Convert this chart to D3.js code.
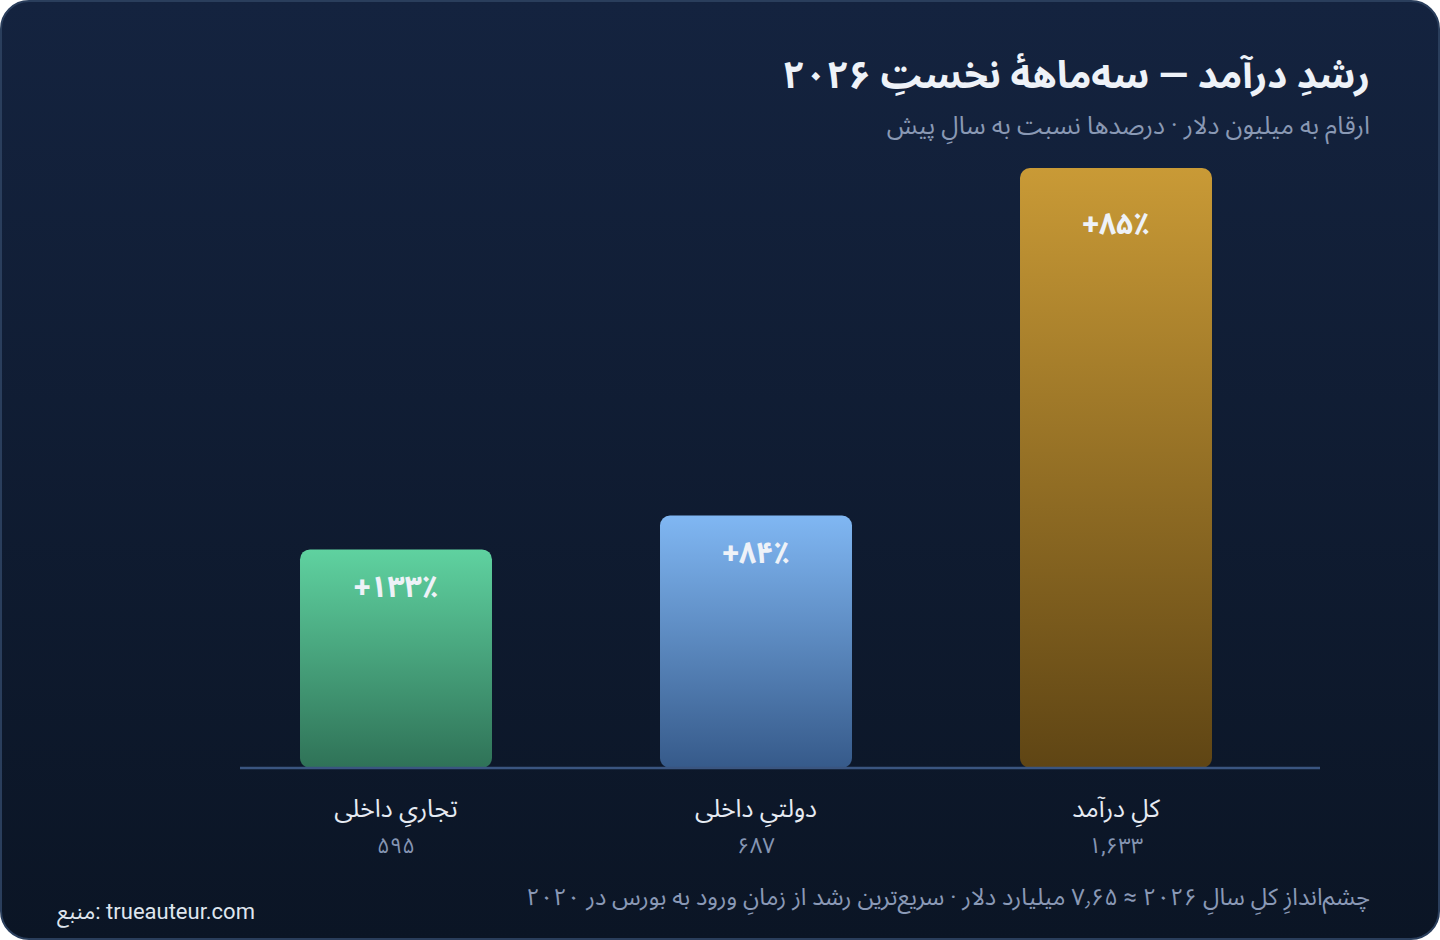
<!DOCTYPE html>
<html lang="fa">
<head>
<meta charset="utf-8">
<script src="https://cdn.jsdelivr.net/npm/d3@7"></script>
<style>
  html, body { margin: 0; padding: 0; background: #ffffff; }
  svg { display: block; font-family: Roboto, "Noto Sans Arabic", Vazirmatn, "DejaVu Sans", sans-serif; }
</style>
</head>
<body>
<div id="chart"></div>
<script>
// data
const categories = ["کلِ درآمد", "دولتیِ داخلی", "تجاریِ داخلی"];
const revenue = [1633, 687, 595];          // million USD
const growth = [85, 84, 133];              // % YoY
const barColors = [
  ["#c99a36", "#5f4514"],
  ["#80b7f3", "#365a8a"],
  ["#5fd2a0", "#2f7257"]
];

const title = "رشدِ درآمد — سه‌ماههٔ نخستِ ۲۰۲۶";
const subtitle = "ارقام به میلیون دلار · درصدها نسبت به سالِ پیش";
const footnote = "چشم‌اندازِ کلِ سالِ ۲۰۲۶ ≈ ۷٫۶۵ میلیارد دلار · سریع‌ترین رشد از زمانِ ورود به بورس در ۲۰۲۰";
const source = "منبع: trueauteur.com";

const W = 1440, H = 940;
const faDigits = s => String(s).replace(/\d/g, d => "۰۱۲۳۴۵۶۷۸۹"[d]);
const fmtNum = v => faDigits(d3.format(",")(v));

const svg = d3.select("#chart").append("svg")
  .attr("width", W).attr("height", H).attr("viewBox", `0 0 ${W} ${H}`);
const defs = svg.append("defs");

const bg = defs.append("linearGradient").attr("id", "bg").attr("x1", 0).attr("y1", 0).attr("x2", 0).attr("y2", 1);
bg.append("stop").attr("offset", "0%").attr("stop-color", "#14233f");
bg.append("stop").attr("offset", "100%").attr("stop-color", "#0b1525");

svg.append("rect")
  .attr("x", 1).attr("y", 1).attr("width", W - 2).attr("height", H - 2)
  .attr("rx", 28)
  .attr("fill", "url(#bg)")
  .attr("stroke", "#2a3e5c").attr("stroke-width", 2);

// scales (right-to-left order)
const x = d3.scaleBand().domain(categories).range([1296, 216]).padding(0);
const barW = x.bandwidth() * 0.5333;
const y = d3.scaleLinear().domain([0, d3.max(revenue)]).range([768, 168]);

categories.forEach((c, i) => {
  const g = defs.append("linearGradient").attr("id", `bar${i}`)
    .attr("x1", 0).attr("y1", 0).attr("x2", 0).attr("y2", 1);
  g.append("stop").attr("offset", "0%").attr("stop-color", barColors[i][0]);
  g.append("stop").attr("offset", "100%").attr("stop-color", barColors[i][1]);
});

const rows = categories.map((c, i) => ({ c, v: revenue[i], g: growth[i], i }));
const cx = d => x(d.c) + x.bandwidth() / 2;

// bars
svg.append("g").selectAll("rect").data(rows).join("rect")
  .attr("x", d => cx(d) - barW / 2)
  .attr("y", d => y(d.v))
  .attr("width", barW)
  .attr("height", d => y(0) - y(d.v))
  .attr("rx", 10)
  .attr("fill", d => `url(#bar${d.i})`);

// baseline
svg.append("line")
  .attr("x1", 240).attr("x2", 1320)
  .attr("y1", y(0)).attr("y2", y(0))
  .attr("stroke", "#3a5580").attr("stroke-width", 2.5);

// growth labels inside bars
svg.append("g").selectAll("text").data(rows).join("text")
  .attr("x", cx)
  .attr("y", d => y(d.v) + Math.max(37, (y(0) - y(d.v)) * 0.093))
  .attr("dy", "0.35em")
  .attr("text-anchor", "middle")
  .attr("direction", "ltr")
  .attr("fill", "#eef2f8")
  .attr("font-size", 30)
  .attr("font-weight", 700)
  .text(d => "+" + faDigits(d.g) + "٪");

// category labels
svg.append("g").selectAll("text").data(rows).join("text")
  .attr("x", cx).attr("y", 808)
  .attr("dy", "0.35em")
  .attr("text-anchor", "middle")
  .attr("fill", "#e6ebf3")
  .attr("font-size", 25)
  .text(d => d.c);

svg.append("g").selectAll("text").data(rows).join("text")
  .attr("x", cx).attr("y", 845)
  .attr("dy", "0.35em")
  .attr("text-anchor", "middle")
  .attr("direction", "ltr")
  .attr("fill", "#8595b3")
  .attr("font-size", 22)
  .text(d => fmtNum(d.v));

// titles
svg.append("text")
  .attr("x", 1370).attr("y", 75).attr("dy", "0.35em")
  .attr("text-anchor", "start").attr("direction", "rtl")
  .attr("fill", "#eef2f8").attr("font-size", 38.5).attr("font-weight", 700)
  .text(title);

svg.append("text")
  .attr("x", 1370).attr("y", 125).attr("dy", "0.35em")
  .attr("text-anchor", "start").attr("direction", "rtl")
  .attr("fill", "#8a99b4").attr("font-size", 25)
  .text(subtitle);

// footer
svg.append("text")
  .attr("x", 1370).attr("y", 897).attr("dy", "0.35em")
  .attr("text-anchor", "start").attr("direction", "rtl")
  .attr("fill", "#8a99b6").attr("font-size", 23.7)
  .text(footnote);

svg.append("text")
  .attr("x", 57).attr("y", 911).attr("dy", "0.35em")
  .attr("text-anchor", "start").attr("direction", "ltr")
  .attr("fill", "#dfe5ee").attr("font-size", 22)
  .text(source);
</script>
</body>
</html>
